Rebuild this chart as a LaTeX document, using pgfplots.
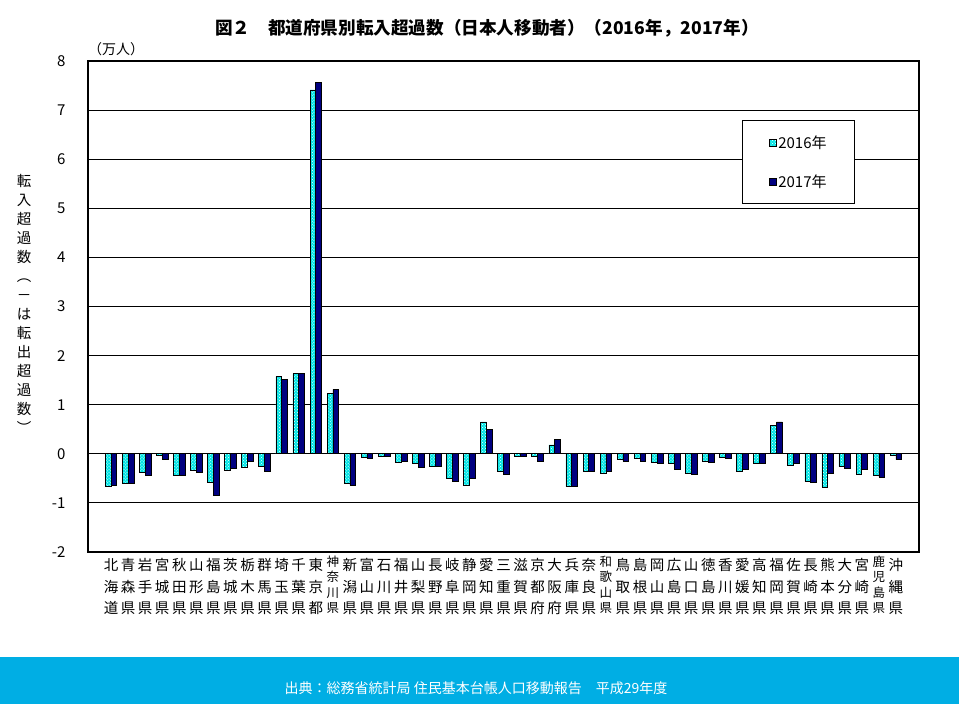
\documentclass[border=0pt]{standalone}
\usepackage{fontspec}
\setmainfont{Noto Sans CJK JP}
\usepackage{pgfplots}
\pgfplotsset{compat=1.18}
\usepackage{pgfplotstable}
\usetikzlibrary{patterns}

\definecolor{c2016}{RGB}{0,228,228}
\definecolor{c2017}{RGB}{0,0,128}
\definecolor{band}{RGB}{0,174,228}

% vertical (tate) labels
\newcommand{\vt}[1]{\begin{tabular}{@{}c@{}}#1\end{tabular}}
\newcommand{\vf}[1]{{\fontsize{12.5bp}{15.5bp}\selectfont\begin{tabular}{@{}c@{}}#1\end{tabular}}}

% net in-migration, 10k persons: x, 2016, 2017
\pgfplotstableread{
x  a      b
1  -0.67  -0.64
2  -0.61  -0.61
3  -0.37  -0.43
4  -0.03  -0.12
5  -0.43  -0.43
6  -0.34  -0.37
7  -0.58  -0.84
8  -0.34  -0.30
9  -0.28  -0.15
10 -0.25  -0.35
11  1.57   1.51
12  1.63   1.63
13  7.41   7.56
14  1.23   1.31
15 -0.60  -0.64
16 -0.08  -0.09
17 -0.06  -0.06
18 -0.18  -0.15
19 -0.20  -0.27
20 -0.26  -0.26
21 -0.50  -0.56
22 -0.64  -0.51
23  0.65   0.50
24 -0.35  -0.42
25 -0.06  -0.06
26 -0.06  -0.15
27  0.18   0.29
28 -0.67  -0.67
29 -0.35  -0.35
30 -0.39  -0.36
31 -0.11  -0.15
32 -0.10  -0.15
33 -0.17  -0.20
34 -0.20  -0.32
35 -0.39  -0.42
36 -0.16  -0.17
37 -0.08  -0.09
38 -0.35  -0.32
39 -0.20  -0.20
40  0.58   0.65
41 -0.23  -0.20
42 -0.56  -0.59
43 -0.68  -0.39
44 -0.26  -0.29
45 -0.41  -0.32
46 -0.44  -0.47
47 -0.03  -0.12
}\prefdata

\begin{document}
\begin{tikzpicture}
\path[use as bounding box, fill=white] (0,0) rectangle (959bp,704bp);
\fill[band] (0,0) rectangle (959bp,47bp);
\node[white, font=\fontsize{14bp}{16bp}\selectfont] at (476bp,16bp)
  {出典：総務省統計局 住民基本台帳人口移動報告　平成29年度};
\node[font=\fontsize{17.6bp}{20bp}\selectfont\bfseries] at (487bp,676bp)
  {図２　都道府県別転入超過数（日本人移動者）（2016年，2017年）};
\node[font=\fontsize{14bp}{16bp}\selectfont] at (116bp,655bp) {（万人）};

\begin{axis}[
    scale only axis,
    width=831bp, height=491bp,
    at={(88bp,152bp)}, anchor=south west,
    xmin=-0.35, xmax=48.35,
    ymin=-2, ymax=8,
    ytick={-2,-1,...,8},
    xtick=data,
    xticklabels={\vt{北\\海\\道},\vt{青\\森\\県},\vt{岩\\手\\県},\vt{宮\\城\\県},\vt{秋\\田\\県},
      \vt{山\\形\\県},\vt{福\\島\\県},\vt{茨\\城\\県},\vt{栃\\木\\県},\vt{群\\馬\\県},
      \vt{埼\\玉\\県},\vt{千\\葉\\県},\vt{東\\京\\都},\vf{神\\奈\\川\\県},\vt{新\\潟\\県},
      \vt{富\\山\\県},\vt{石\\川\\県},\vt{福\\井\\県},\vt{山\\梨\\県},\vt{長\\野\\県},
      \vt{岐\\阜\\県},\vt{静\\岡\\県},\vt{愛\\知\\県},\vt{三\\重\\県},\vt{滋\\賀\\県},
      \vt{京\\都\\府},\vt{大\\阪\\府},\vt{兵\\庫\\県},\vt{奈\\良\\県},\vf{和\\歌\\山\\県},
      \vt{鳥\\取\\県},\vt{島\\根\\県},\vt{岡\\山\\県},\vt{広\\島\\県},\vt{山\\口\\県},
      \vt{徳\\島\\県},\vt{香\\川\\県},\vt{愛\\媛\\県},\vt{高\\知\\県},\vt{福\\岡\\県},
      \vt{佐\\賀\\県},\vt{長\\崎\\県},\vt{熊\\本\\県},\vt{大\\分\\県},\vt{宮\\崎\\県},
      \vf{鹿\\児\\島\\県},\vt{沖\\縄\\県}},
    xticklabel style={font=\fontsize{14.5bp}{21.5bp}\selectfont},
    yticklabel style={font=\fontsize{15bp}{17bp}\selectfont, xshift=-19bp},
    /pgf/number format/assume math mode=true,
    major tick length=0pt,
    ymajorgrids,
    grid style={black, line width=0.9bp},
    axis line style={black, line width=2bp},
    ylabel={\fontsize{14.5bp}{19bp}\selectfont\vt{転\\入\\超\\過\\数\\︵\\－\\は\\転\\出\\超\\過\\数\\︶}},
    y label style={at={(axis description cs:-0.077,0.5)}, rotate=-90, anchor=center},
    legend style={at={(axis description cs:0.787,0.88)}, anchor=north west,
      draw=black, line width=1.2bp, inner xsep=26bp, inner ysep=13bp,
      row sep=21bp, font=\fontsize{15bp}{17bp}\selectfont},
    legend cell align=left,
    legend image code/.code={\draw[#1] (0bp,-3.5bp) rectangle (7bp,3.5bp);},
]
\addplot[ybar, bar width=0.34, bar shift=-0.17, draw=black, line width=0.7bp,
  preaction={fill=c2016}, pattern=crosshatch dots, pattern color=white]
  table[x=x, y=a] {\prefdata};
\addlegendentry{2016年}
\addplot[ybar, bar width=0.34, bar shift=0.17, draw=black, line width=0.7bp,
  fill=c2017]
  table[x=x, y=b] {\prefdata};
\addlegendentry{2017年}
\end{axis}
\end{tikzpicture}
\end{document}
